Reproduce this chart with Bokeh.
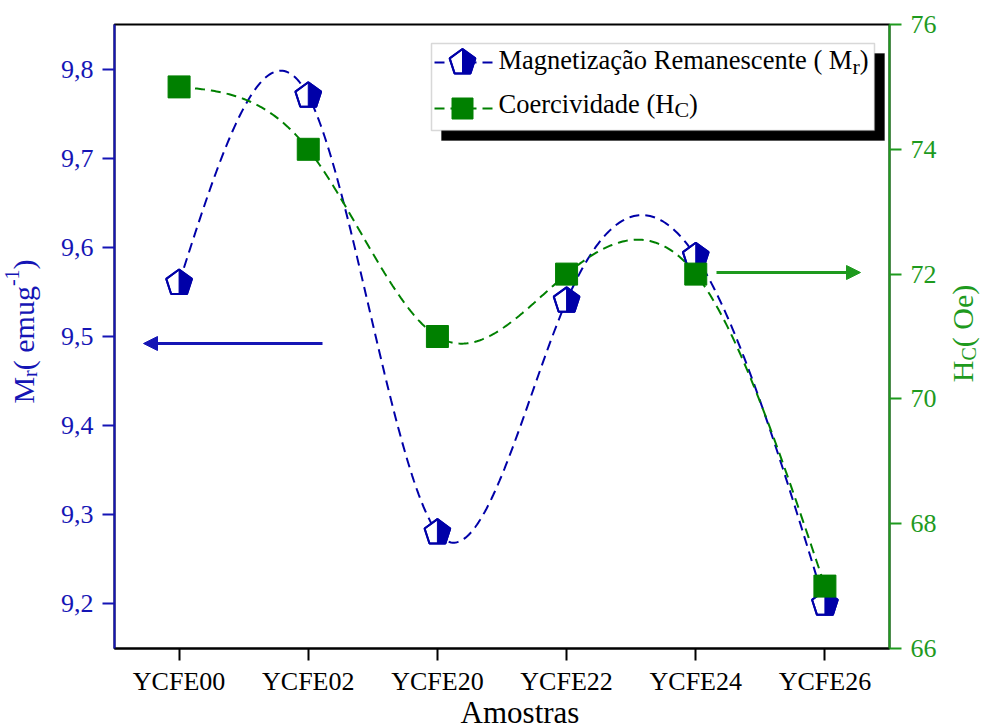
import numpy as np
from bokeh.plotting import figure
from bokeh.layouts import row, column
from bokeh.models import (Range1d, LinearAxis, FixedTicker, CustomJSTickFormatter,
                          Label, BoxAnnotation, Arrow, NormalHead)
from bokeh.embed import file_html
from bokeh.resources import INLINE

# ---------------- data ----------------
samples = ["YCFE00", "YCFE02", "YCFE20", "YCFE22", "YCFE24", "YCFE26"]
mr = [9.56, 9.77, 9.28, 9.54, 9.59, 9.20]
hc = [75, 74, 71, 72, 72, 67]
mr_ticks = [9.2, 9.3, 9.4, 9.5, 9.6, 9.7, 9.8]
hc_ticks = [66, 68, 70, 72, 74, 76]

BLUE = "#0000A8"
BLUE_AX = "#1515B5"
GREEN = "#008000"
GREEN_AX = "#1E9A1E"
FONT = "Liberation Serif"

X0, X1 = -0.5, 5.5
YL0, YL1 = 9.15, 9.85
YR0, YR1 = 66, 76

# page geometry (reference-image pixels)
W, H = 986, 726
FL, FR, FT, FB = 114, 889, 24, 648      # plot frame
LW = 48                                  # left title strip width
RX = 945                                 # right title strip starts here
BH = 26                                  # bottom title strip height
MW = RX - LW                             # main figure width
MH = H - BH                              # main figure height
FW, FH = FR - FL, FB - FT
SHIFT = 10                               # label anchor correction (px)


def dx(px):
    return X0 + (px - FL) / FW * (X1 - X0)


def dyl(py):
    return YL1 - (py - FT) / FH * (YL1 - YL0)


def dyr(py):
    return YR1 - (py - FT) / FH * (YR1 - YR0)


def natural_spline(xv, yv, n=400):
    xv = np.asarray(xv, float)
    yv = np.asarray(yv, float)
    m = len(xv)
    h = np.diff(xv)
    A = np.zeros((m, m))
    b = np.zeros(m)
    A[0, 0] = A[-1, -1] = 1.0
    for i in range(1, m - 1):
        A[i, i - 1] = h[i - 1]
        A[i, i] = 2 * (h[i - 1] + h[i])
        A[i, i + 1] = h[i]
        b[i] = 6 * ((yv[i + 1] - yv[i]) / h[i] - (yv[i] - yv[i - 1]) / h[i - 1])
    M = np.linalg.solve(A, b)
    t = np.linspace(xv[0], xv[-1], n)
    idx = np.clip(np.searchsorted(xv, t) - 1, 0, m - 2)
    x0, x1 = xv[idx], xv[idx + 1]
    hh = x1 - x0
    s = (M[idx] * (x1 - t) ** 3 / (6 * hh) + M[idx + 1] * (t - x0) ** 3 / (6 * hh)
         + (yv[idx] / hh - M[idx] * hh / 6) * (x1 - t)
         + (yv[idx + 1] / hh - M[idx + 1] * hh / 6) * (t - x0))
    return t, s


def tw(s, size):
    w = {"M": .889, "a": .444, "g": .5, "n": .5, "e": .444, "t": .278, "i": .278,
         "z": .444, "ç": .444, "ã": .444, "o": .5, " ": .25, "R": .667, "m": .778,
         "s": .389, "c": .444, "(": .333, ")": .333, "C": .667, "r": .333, "v": .5,
         "d": .5, "H": .722, "u": .5, "O": .722, "-": .333, "1": .5, "A": .722}
    return sum(w.get(ch, .5) for ch in s) * size


# ---------------- main figure ----------------
p = figure(width=MW, height=MH, output_backend="svg", toolbar_location=None,
           x_range=Range1d(X0, X1), y_range=Range1d(YL0, YL1),
           min_border_left=FL - LW, min_border_right=RX - FR,
           min_border_top=FT, min_border_bottom=MH - FB)
p.extra_y_ranges = {"hc": Range1d(YR0, YR1)}
p.xgrid.visible = False
p.ygrid.visible = False
p.background_fill_color = "white"
p.border_fill_color = "white"
p.outline_line_color = "black"
p.outline_line_width = 2

xa = p.xaxis[0]
xa.ticker = FixedTicker(ticks=list(range(len(samples))))
xa.major_label_overrides = {i: s for i, s in enumerate(samples)}
xa.axis_line_color = "black"
xa.axis_line_width = 2
xa.major_tick_line_color = "black"
xa.major_tick_line_width = 2
xa.major_tick_in = 0
xa.major_tick_out = 12
xa.minor_tick_line_color = None
xa.major_label_text_font = FONT
xa.major_label_text_font_size = "26px"
xa.major_label_text_color = "black"
xa.major_label_standoff = 6

ya = p.yaxis[0]
ya.ticker = FixedTicker(ticks=mr_ticks)
ya.formatter = CustomJSTickFormatter(code="return tick.toFixed(1).replace('.', ',');")
ya.axis_line_color = BLUE_AX
ya.axis_line_width = 2
ya.major_tick_line_color = BLUE_AX
ya.major_tick_line_width = 2
ya.major_tick_in = 0
ya.major_tick_out = 12
ya.minor_tick_line_color = None
ya.major_label_text_font = FONT
ya.major_label_text_font_size = "26px"
ya.major_label_text_color = BLUE_AX
ya.major_label_standoff = 9

ra = LinearAxis(y_range_name="hc", ticker=FixedTicker(ticks=hc_ticks))
ra.axis_line_color = GREEN_AX
ra.axis_line_width = 2
ra.major_tick_line_color = GREEN_AX
ra.major_tick_line_width = 2
ra.major_tick_in = 0
ra.major_tick_out = 12
ra.minor_tick_line_color = None
ra.major_label_text_font = FONT
ra.major_label_text_font_size = "26px"
ra.major_label_text_color = GREEN_AX
ra.major_label_standoff = 9
p.add_layout(ra, "right")

xi = list(range(len(samples)))

tb, sb = natural_spline(xi, mr)
p.line(tb, sb, line_color=BLUE, line_width=2, line_dash="10 6")
tg, sg = natural_spline(xi, hc)
p.line(tg, sg, line_color=GREEN, line_width=2, line_dash="10 6", y_range_name="hc")

R = 13.5
kx = FW / (X1 - X0)
ky = FH / (YL1 - YL0)
ang = np.deg2rad(np.arange(5) * 72.0)


def pentagon(cx, cy):
    full_x = list(cx + R * np.sin(ang) / kx)
    full_y = list(cy + R * np.cos(ang) / ky)
    hx = [cx, cx + R * np.sin(ang[1]) / kx, cx + R * np.sin(ang[2]) / kx, cx]
    hy = [cy + R / ky, cy + R * np.cos(ang[1]) / ky, cy + R * np.cos(ang[2]) / ky,
          cy + R * np.cos(ang[2]) / ky]
    return full_x, full_y, hx, hy


FXs, FYs, HXs, HYs = [], [], [], []
for x, y in zip(xi, mr):
    a, b_, c, d = pentagon(x, y)
    FXs.append(a); FYs.append(b_); HXs.append(c); HYs.append(d)
p.patches(FXs, FYs, fill_color="white", line_color=BLUE, line_width=2)
p.patches(HXs, HYs, fill_color=BLUE, line_color=BLUE, line_width=1)
p.patches(FXs, FYs, fill_color=None, line_color=BLUE, line_width=2)

p.scatter(xi, hc, marker="square", size=22, fill_color=GREEN, line_color=GREEN,
          y_range_name="hc")

p.add_layout(Arrow(end=NormalHead(size=14, fill_color=BLUE_AX, line_color=BLUE_AX),
                   x_start=dx(322), y_start=dyl(343), x_end=dx(143), y_end=dyl(343),
                   line_color=BLUE_AX, line_width=3))
p.add_layout(Arrow(end=NormalHead(size=14, fill_color=GREEN_AX, line_color=GREEN_AX),
                   x_start=dx(716), y_start=dyr(272), x_end=dx(860), y_end=dyr(272),
                   line_color=GREEN_AX, line_width=3, y_range_name="hc"))

# legend
p.add_layout(BoxAnnotation(left=dx(441), right=dx(884), top=dyl(53), bottom=dyl(140),
                           fill_color="black", fill_alpha=1, line_color="black"))
p.add_layout(BoxAnnotation(left=dx(431), right=dx(874), top=dyl(43), bottom=dyl(130),
                           fill_color="white", fill_alpha=1, line_color="#7f7f7f",
                           line_width=1.5))
l1 = p.line([dx(434), dx(492)], [dyl(62), dyl(62)], line_color=BLUE, line_width=2,
            line_dash="10 6")
l1.level = "overlay"
a, b_, c, d = pentagon(dx(462), dyl(62))
r1 = p.patches([a], [b_], fill_color="white", line_color=BLUE, line_width=2)
r2 = p.patches([c], [d], fill_color=BLUE, line_color=BLUE, line_width=1)
r3 = p.patches([a], [b_], fill_color=None, line_color=BLUE, line_width=2)
for r in (r1, r2, r3):
    r.level = "overlay"
l2 = p.line([dx(434), dx(492)], [dyl(108), dyl(108)], line_color=GREEN, line_width=2,
            line_dash="10 6")
l2.level = "overlay"
r4 = p.scatter([dx(462)], [dyl(108)], marker="square", size=21, fill_color=GREEN,
               line_color=GREEN)
r4.level = "overlay"

LF = 26.5
SF = 22


def main_text(txt, px, py, size, color="black"):
    lab = Label(x=dx(px), y=dyl(py - SHIFT), text=txt, text_font=FONT,
                text_font_size=f"{size}px", text_color=color,
                text_align="left", text_baseline="alphabetic")
    lab.level = "overlay"
    p.add_layout(lab)


t1 = "Magnetização Remanescente ( M"
x = 498
main_text(t1, x, 69, LF)
x += tw(t1, LF)
main_text("r", x, 76, SF)
x += tw("r", SF)
main_text(")", x, 69, LF)

t2 = "Coercividade (H"
x = 498
main_text(t2, x, 113, LF)
x += tw(t2, LF)
main_text("C", x, 119, SF)
x += tw("C", SF)
main_text(")", x, 113, LF)


# ---------------- title strips ----------------
def strip(w, h):
    f = figure(width=w, height=h, output_backend="svg", toolbar_location=None,
               x_range=Range1d(0, w), y_range=Range1d(0, h),
               x_axis_location=None, y_axis_location=None, min_border=0)
    f.xgrid.visible = False
    f.ygrid.visible = False
    f.outline_line_color = None
    f.background_fill_color = "white"
    f.border_fill_color = "white"
    return f


def strip_text(f, h, txt, x, py, size, color, angle=0.0):
    f.add_layout(Label(x=x, y=h - py, text=txt, text_font=FONT,
                       text_font_size=f"{size}px", text_color=color, angle=angle,
                       text_align="left", text_baseline="alphabetic"))


AF, AS = 30, 20

left = strip(LW, H)
parts = [("M", AF, 0), ("r", AS, 6), ("( emug", AF, 0), ("-1", AS, -12), (")", AF, 0)]
total = sum(tw(s, f) for s, f, _ in parts)
yy = 331 + total / 2
for s, f, off in parts:
    strip_text(left, H, s, 33 - SHIFT + off, yy, f, BLUE_AX, angle=np.pi / 2)
    yy -= tw(s, f)

right = strip(W - RX, H)
parts = [("H", AF, 0), ("C", AS, 6), ("( Oe)", AF, 0)]
total = sum(tw(s, f) for s, f, _ in parts)
yy = 333 + total / 2
for s, f, off in parts:
    strip_text(right, H, s, 972 - SHIFT - RX + off, yy, f, GREEN_AX, angle=np.pi / 2)
    yy -= tw(s, f)

bottom = strip(MW, BH)
strip_text(bottom, BH, "Amostras", 508 - LW - tw("Amostras", 31) / 2, 12, 31, "black")

layout = row(left, column(p, bottom, spacing=0), right, spacing=0)
open("out.html", "w").write(file_html(layout, INLINE))
